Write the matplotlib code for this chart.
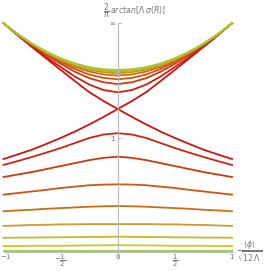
import numpy as np
import matplotlib
matplotlib.use("Agg")
import matplotlib.pyplot as plt
from matplotlib.transforms import ScaledTranslation

plt.rcParams["mathtext.fontset"] = "dejavusans"

# x positions (left half, curves are symmetric about 0)
x_full = [-1.0, -0.875, -0.75, -0.625, -0.5, -0.375, -0.25, -0.125, 0.0,
          0.125, 0.25, 0.375, 0.5, 0.625, 0.75, 0.875, 1.0]

# upper family, value on left half (red -> green)
upper = [
    [1.000, 0.949, 0.901, 0.852, 0.809, 0.767, 0.732, 0.708, 0.698],
    [1.000, 0.950, 0.905, 0.861, 0.823, 0.788, 0.760, 0.742, 0.734],
    [1.000, 0.951, 0.907, 0.866, 0.831, 0.800, 0.776, 0.761, 0.755],
    [1.000, 0.951, 0.908, 0.870, 0.837, 0.809, 0.789, 0.776, 0.771],
    [1.000, 0.952, 0.910, 0.872, 0.841, 0.816, 0.797, 0.786, 0.781],
    [1.000, 0.952, 0.910, 0.874, 0.844, 0.820, 0.802, 0.792, 0.789],
    [1.000, 0.952, 0.911, 0.875, 0.846, 0.823, 0.806, 0.797, 0.794],
    [1.000, 0.952, 0.911, 0.876, 0.847, 0.824, 0.808, 0.799, 0.796],
]
upper_colors = ["#cc1e12", "#cc3a12", "#cc5614", "#c96e14", "#cc8e22",
                "#c8ac22", "#bcc424", "#a6c832"]

# lower family, value on left half (red -> green)
lower = [
    [0.380, 0.397, 0.415, 0.434, 0.454, 0.476, 0.498, 0.513, 0.519],
    [0.327, 0.338, 0.349, 0.362, 0.375, 0.388, 0.401, 0.411, 0.416],
    [0.250, 0.257, 0.264, 0.271, 0.279, 0.285, 0.291, 0.294, 0.295],
    [0.177, 0.181, 0.184, 0.188, 0.191, 0.194, 0.197, 0.199, 0.200],
    [0.113, 0.115, 0.117, 0.118, 0.120, 0.120, 0.121, 0.121, 0.121],
    [0.061, 0.062, 0.062, 0.063, 0.063, 0.064, 0.065, 0.065, 0.066],
    [0.025, 0.025, 0.026, 0.026, 0.026, 0.027, 0.028, 0.028, 0.029],
    [0.003, 0.003, 0.003, 0.003, 0.003, 0.003, 0.003, 0.003, 0.003],
]
lower_colors = ["#cc2412", "#cc3a12", "#cc5614", "#c96e14", "#cc9a30",
                "#c8b822", "#bcd020", "#98c840"]

# separatrix (falls from top-left to the right)
sep = [1.000, 0.947, 0.896, 0.846, 0.796, 0.747, 0.699, 0.660, 0.625,
       0.590, 0.557, 0.526, 0.498, 0.472, 0.447, 0.426, 0.406]
sep_color = "#cc1414"

x_ticks = [-1, -0.5, 0, 0.5, 1]
x_labels = [r"$-1$", r"$-\dfrac{1}{2}$", r"$0$", r"$\dfrac{1}{2}$", r"$1$"]
y_ticks = [0.5, 1.0]
y_labels = [r"$1$", r"$\infty$"]


def mirror(h):
    h = np.asarray(h)
    return np.concatenate([h, h[-2::-1]])


fig = plt.figure(figsize=(2.64, 2.71), dpi=100)
ax = fig.add_axes([3.5 / 264, (271 - 258.6) / 271, 228.5 / 264, 235.3 / 271])
ax.set_xlim(-1, 1)
ax.set_ylim(-0.03, 1.0)

lw = 1.3
for vals, c in zip(lower[::-1], lower_colors[::-1]):
    ax.plot(x_full, mirror(vals), color=c, lw=lw, clip_on=False)
ax.plot(x_full, sep, color=sep_color, lw=lw, clip_on=False)
ax.plot(x_full, sep[::-1], color=sep_color, lw=lw, clip_on=False)
for vals, c in zip(upper, upper_colors):
    ax.plot(x_full, mirror(vals), color=c, lw=lw, clip_on=False)

# axes through the origin, Mathematica style
for s in ["top", "right"]:
    ax.spines[s].set_visible(False)
ax.spines["left"].set_position(("data", 0))
ax.spines["bottom"].set_position(("data", 0))
for s in ["left", "bottom"]:
    ax.spines[s].set_color("#bbbbbb")
    ax.spines[s].set_linewidth(0.8)
ax.set_facecolor("none")

ax.set_xticks(x_ticks)
ax.set_xticklabels(x_labels)
ax.set_yticks(y_ticks)
ax.set_yticklabels(y_labels)
ax.tick_params(axis="both", direction="in", length=2.5, width=0.6,
               color="#aaaaaa", labelcolor="#777777", labelsize=5.0, pad=1.5)
ax.tick_params(axis="x", pad=0.5)
# keep the "-1" inside the picture
lab0 = ax.get_xticklabels()[0]
lab0.set_transform(lab0.get_transform() + ScaledTranslation(2 / 100, 0, fig.dpi_scale_trans))

ax.text(1.04, 0.005, r"$\dfrac{\langle\phi\rangle}{\sqrt{12\,\Lambda}}$",
        color="#777777", fontsize=5.6, ha="left", va="center")
ax.text(-0.125, 1.055, r"$\dfrac{2}{\pi}\,\mathit{arctan}[\Lambda\;\sigma(R)]$",
        color="#777777", fontsize=5.6, ha="left", va="center", clip_on=False)

fig.savefig("out.png", dpi=100)
